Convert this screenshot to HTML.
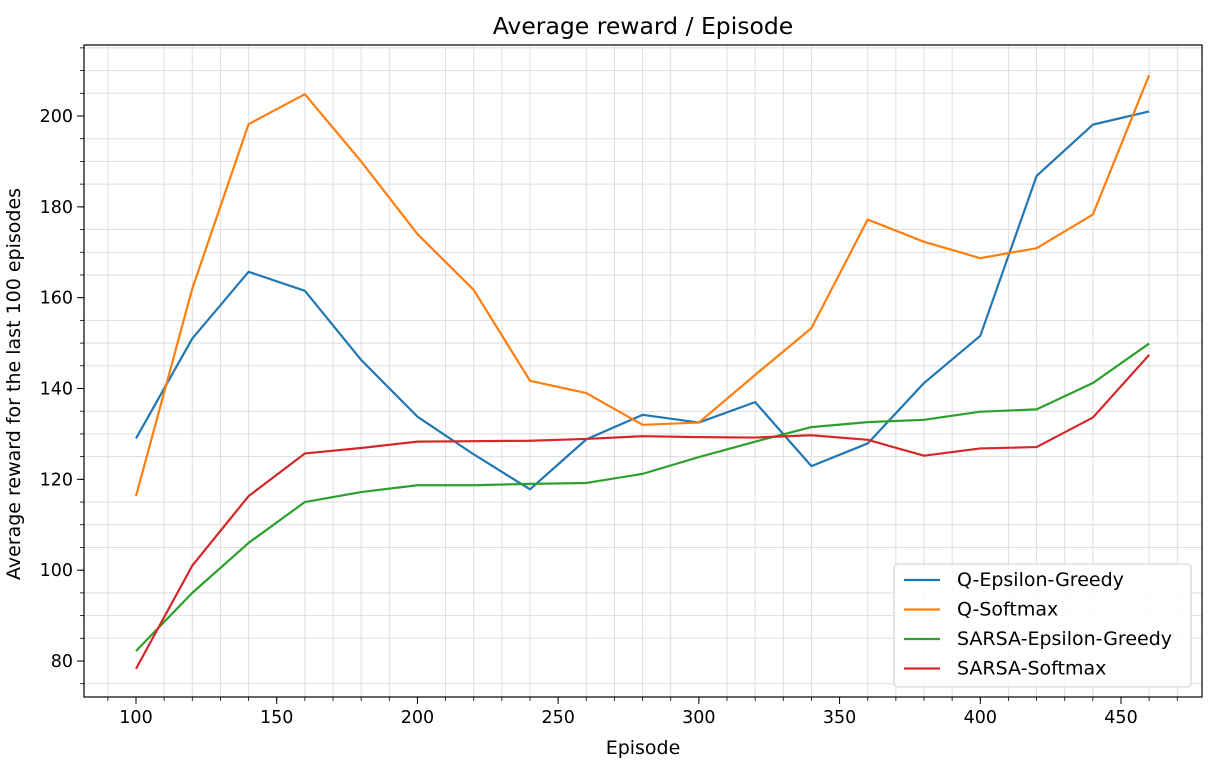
<!DOCTYPE html>
<html><head><meta charset="utf-8"><style>
body{margin:0;background:#fff;}
svg{display:block;font-family:"DejaVu Sans","Liberation Sans",sans-serif;}
</style></head><body>
<svg id="chart" width="1217" height="767"></svg>
<script>
const episodes=[100,120,140,160,180,200,220,240,260,280,300,320,340,360,380,400,420,440,460];
const qEps=[129,151,165.7,161.5,146.3,133.8,125.5,117.8,128.8,134.2,132.5,137,122.9,127.9,141.2,151.6,186.8,198.1,201];
const qSoft=[116.3,162,198.2,204.8,190,174,161.7,141.7,139,132,132.5,143,153.3,177.2,172.3,168.7,170.9,178.3,209];
const sEps=[82.2,95,106,115,117.2,118.7,118.7,119,119.2,121.2,124.9,128.3,131.5,132.6,133.1,134.9,135.4,141.2,149.9];
const sSoft=[78.3,101,116.3,125.7,126.9,128.3,128.4,128.5,128.9,129.5,129.3,129.2,129.7,128.7,125.2,126.8,127.1,133.6,147.4];
const xTicks=[100,150,200,250,300,350,400,450];
const yTicks=[80,100,120,140,160,180,200];
const seriesNames=["Q-Epsilon-Greedy","Q-Softmax","SARSA-Epsilon-Greedy","SARSA-Softmax"];
const seriesColors=["#1f77b4","#ff7f0e","#2ca02c","#d62728"];
const seriesData=[qEps,qSoft,sEps,sSoft];

const NS="http://www.w3.org/2000/svg";
const svg=document.getElementById('chart');
const L=84,R=1202,T=45,B=697;
const X=v=>136+(v-100)*(985/350);
const Y=v=>116+(200-v)*(545/120);
function mk(tag,attrs,parent){const e=document.createElementNS(NS,tag);for(const k in attrs)e.setAttribute(k,attrs[k]);(parent||svg).appendChild(e);return e;}

const grid=mk('g',{});


for(let v=90;v<=480;v+=10){const x=X(v);if(x<L||x>R)continue;
  if(v%50!==0){mk('line',{x1:x,x2:x,y1:T,y2:B,stroke:'#dedede','stroke-width':1},grid);}}
for(let v=70;v<=215;v+=5){const y=Y(v);if(y<T||y>B)continue;
  if(v%20!==0){mk('line',{x1:L,x2:R,y1:y,y2:y,stroke:'#dedede','stroke-width':1},grid);}}

for(let v=90;v<=480;v+=10){const x=X(v);if(x<L||x>R)continue;mk('line',{x1:x,x2:x,y1:B,y2:B+4,stroke:'#000','stroke-width':0.8});}
for(let v=70;v<=215;v+=5){const y=Y(v);if(y<T||y>B)continue;mk('line',{x1:L,x2:L-4,y1:y,y2:y,stroke:'#000','stroke-width':0.8});}
xTicks.forEach(v=>{const x=X(v);mk('line',{x1:x,x2:x,y1:B,y2:B+7,stroke:'#000','stroke-width':1});
  const t=mk('text',{x:x,y:B+26,'text-anchor':'middle','font-size':17.5,fill:'#000'});t.textContent=v;
  
  });
yTicks.forEach(v=>{const y=Y(v);mk('line',{x1:L,x2:L-7,y1:y,y2:y,stroke:'#000','stroke-width':1});
  const t=mk('text',{x:L-11,y:y+6,'text-anchor':'end','font-size':17.5,fill:'#000'});t.textContent=v;
  
  });

seriesData.forEach((d,i)=>{const p=mk('polyline',{points:d.map((v,j)=>X(episodes[j])+','+Y(v)).join(' '),fill:'none',stroke:seriesColors[i],'stroke-width':2.2,'stroke-linejoin':'round'});
  
  });

const frame=mk('rect',{x:L,y:T,width:R-L,height:B-T,fill:'none',stroke:'#000','stroke-width':1.2});



const title=mk('text',{x:643,y:34,'text-anchor':'middle','font-size':23.5,fill:'#000'});title.textContent='Average reward / Episode';


const xt=mk('text',{x:643,y:754,'text-anchor':'middle','font-size':19,fill:'#000'});xt.textContent='Episode';


const yt=mk('text',{x:0,y:0,'text-anchor':'middle','font-size':19,fill:'#000',transform:'translate(20,384) rotate(-90)'});yt.textContent='Average reward for the last 100 episodes';



const lg=mk('g',{});


mk('rect',{x:894,y:564,width:297,height:123,rx:4,fill:'#fff','fill-opacity':0.85,stroke:'#ccc'},lg);
seriesNames.forEach((n,i)=>{const y=580+i*29.5;
  mk('line',{x1:904,x2:940,y1:y,y2:y,stroke:seriesColors[i],'stroke-width':2.2},lg);
  const t=mk('text',{x:957,y:y+6,'font-size':19,fill:'#000'},lg);t.textContent=n;
  
  });
</script>
</body></html>
